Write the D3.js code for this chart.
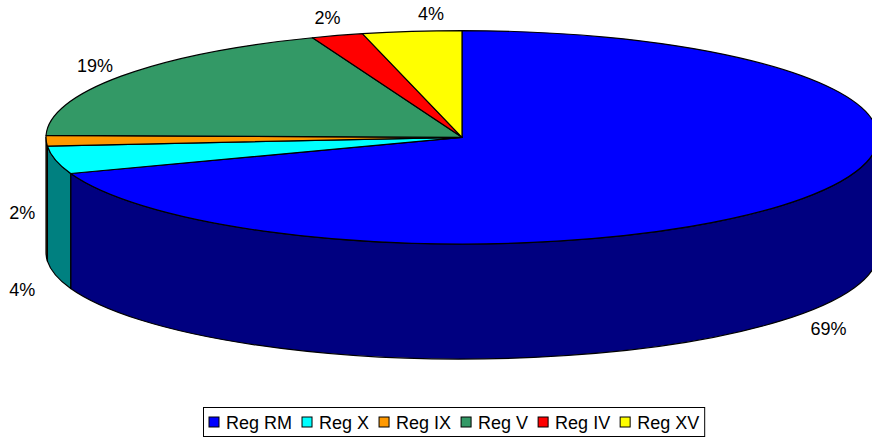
<!DOCTYPE html>
<html>
<head>
<meta charset="utf-8">
<script src="https://cdn.jsdelivr.net/npm/d3@7"></script>
<style>
  body { margin: 0; background: #fff; }
  text { font-family: "Liberation Sans", Arial, sans-serif; fill: #000; }
</style>
</head>
<body>
<svg id="chart" width="872" height="442"></svg>
<script>
// data (share of total, %)
var regions = ["Reg RM", "Reg X", "Reg IX", "Reg V", "Reg IV", "Reg XV"];
var shares  = [69.49, 4.2, 1.6, 18.86, 2.0, 3.85];
var colors  = ["#0000ff", "#00ffff", "#ff9900", "#339966", "#ff0000", "#ffff00"];

// label nudges (Excel moved some labels around)
var labelNudge = { "Reg IX": [8, -43], "Reg X": [-2, 11], "Reg XV": [23, 0], "Reg RM": [0, 5] };

var svg = d3.select("#chart"),
    width = +svg.attr("width"),
    height = +svg.attr("height");

var cx = 462, cy = 137.3, rx = 416, ry = 106.7, depth = 115;
var fmt = d3.format(".0%");

var total = d3.sum(shares);
var rows = regions.map(function(r, i) { return { name: r, value: shares[i], color: colors[i] }; });

var pie = d3.pie().sort(null).value(function(d) { return d.value; })
    .startAngle(0).endAngle(2 * Math.PI);
var arcs = pie(rows);

function pt(a, dy) {
    return [cx + rx * Math.sin(a), cy - ry * Math.cos(a) + (dy || 0)];
}

function sideColor(c) {
    var k = d3.rgb(c);
    return d3.rgb(k.r / 2, k.g / 2, k.b / 2).formatHex();
}

// sides: only the front half (from 90deg to 270deg) is visible
var lo = Math.PI / 2, hi = 3 * Math.PI / 2;
var sides = svg.append("g").attr("class", "sides");
arcs.forEach(function(d) {
    var a0 = Math.max(d.startAngle, lo), a1 = Math.min(d.endAngle, hi);
    if (a1 <= a0) return;
    var p0 = pt(a0), p1 = pt(a1), q1 = pt(a1, depth), q0 = pt(a0, depth);
    var large = (a1 - a0) > Math.PI ? 1 : 0;
    var path = "M" + p0 + " A" + rx + "," + ry + " 0 " + large + " 1 " + p1 +
        " L" + q1 + " A" + rx + "," + ry + " 0 " + large + " 0 " + q0 + " Z";
    sides.append("path")
        .attr("d", path)
        .attr("fill", sideColor(d.data.color))
        .attr("stroke", "#000")
        .attr("stroke-width", 1.2)
        .attr("stroke-linejoin", "round");
});

// tops
var tops = svg.append("g").attr("class", "tops");
arcs.forEach(function(d) {
    var p0 = pt(d.startAngle), p1 = pt(d.endAngle);
    var large = (d.endAngle - d.startAngle) > Math.PI ? 1 : 0;
    var path = "M" + cx + "," + cy + " L" + p0 + " A" + rx + "," + ry + " 0 " + large + " 1 " + p1 + " Z";
    tops.append("path")
        .attr("d", path)
        .attr("fill", d.data.color)
        .attr("stroke", "#000")
        .attr("stroke-width", 1.2)
        .attr("stroke-linejoin", "round");
});

// percentage labels
var labels = svg.append("g").attr("class", "labels");
arcs.forEach(function(d) {
    var m = (d.startAngle + d.endAngle) / 2;
    var front = Math.cos(m) < 0.2;
    var p = pt(m, front ? depth : 0);
    var x = p[0] + Math.sin(m) * 32, y = p[1] - Math.cos(m) * 18;
    var n = labelNudge[d.data.name];
    if (n) { x += n[0]; y += n[1]; }
    labels.append("text")
        .attr("x", x).attr("y", y)
        .attr("text-anchor", "middle")
        .attr("dominant-baseline", "central")
        .attr("font-size", "18px")
        .text(fmt(d.data.value / total));
});

// legend
var legend = svg.append("g").attr("class", "legend");
var box = legend.append("rect")
    .attr("fill", "#fff").attr("stroke", "#000").attr("stroke-width", 1);
var xPos = 0, items = legend.append("g");
rows.forEach(function(d) {
    var g = items.append("g").attr("transform", "translate(" + xPos + ",0)");
    g.append("rect").attr("x", 0).attr("y", -5).attr("width", 10).attr("height", 10)
        .attr("fill", d.color).attr("stroke", "#000").attr("stroke-width", 1);
    var t = g.append("text").attr("x", 17).attr("y", 1)
        .attr("dominant-baseline", "central")
        .attr("font-size", "18px")
        .text(d.name);
    xPos += 17 + t.node().getComputedTextLength() + 10;
});
var legW = xPos - 10;
var lx = 209, ly = 422;
items.attr("transform", "translate(" + lx + "," + ly + ")");
box.attr("x", lx - 5.5).attr("y", 407.5).attr("width", legW + 11).attr("height", 29);
</script>
</body>
</html>
